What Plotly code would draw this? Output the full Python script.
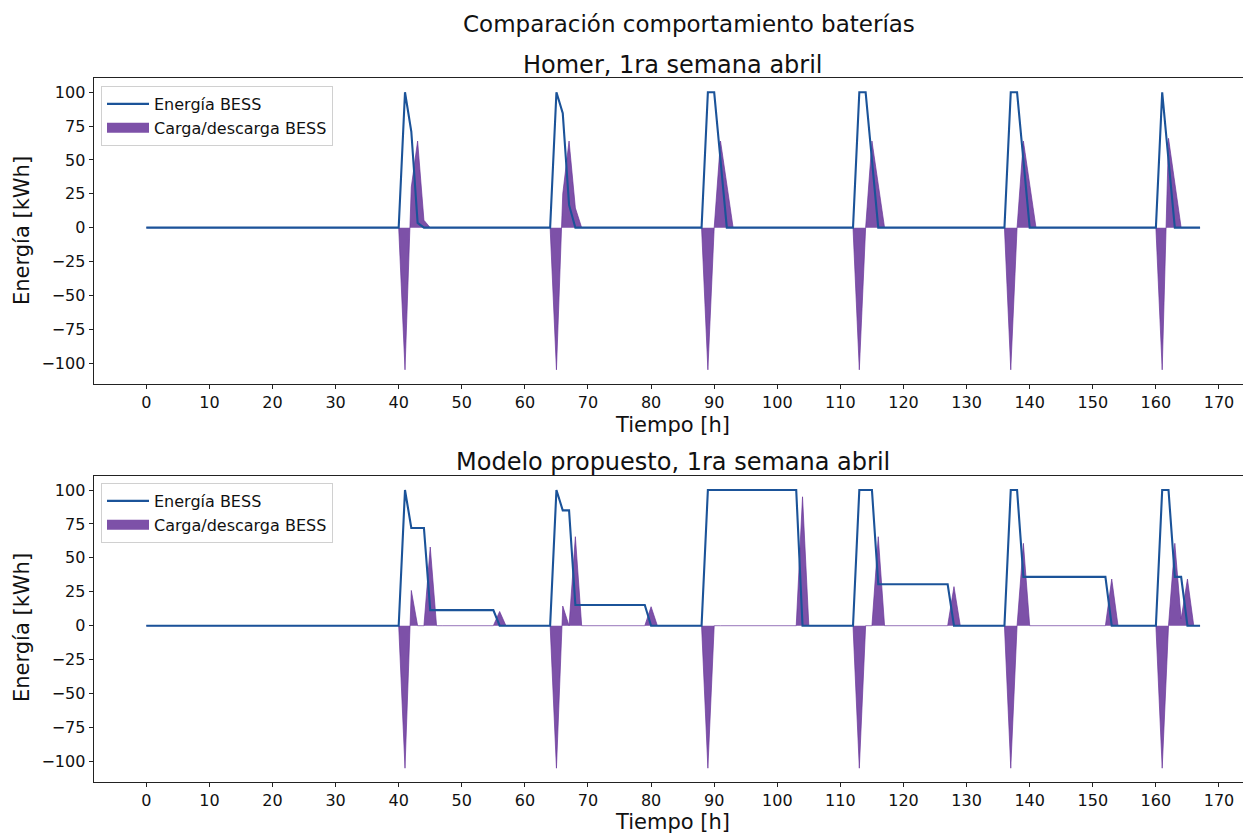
import plotly.graph_objects as go

# ---------------- data ----------------
N_HOURS = 168  # hours 0..167
HOURS = list(range(N_HOURS))

# Homer: energy stored in BESS [kWh] (hours not listed are 0)
homer_energy_hours = [41, 42, 43, 65, 66, 67, 89, 90, 91, 113, 114, 115, 137, 138, 139, 161, 162]
homer_energy_vals  = [100, 71, 3.5, 100, 84.5, 16.8, 100, 100, 50, 100, 100, 50, 100, 100, 50, 100, 50]

# Homer: charge / discharge [kWh]
homer_flow_hours = [41, 42, 43, 44, 65, 66, 67, 68, 89, 91, 92, 113, 115, 116, 137, 139, 140, 161, 162, 163]
homer_flow_vals  = [-105, 30, 64, 5.5, -105, 25, 64, 14.5, -105, 64, 32, -105, 64, 32, -105, 64, 32, -105, 66, 33]

# Modelo propuesto: energy stored in BESS [kWh]
model_energy_hours = ([41, 42, 43, 44] + list(range(45, 56)) +
                      [65, 66, 67] + list(range(68, 80)) +
                      list(range(89, 104)) +
                      [113, 114, 115] + list(range(116, 128)) +
                      [137, 138] + list(range(139, 153)) +
                      [161, 162, 163, 164])
model_energy_vals = ([100, 72, 72, 72] + [11.5] * 11 +
                     [100, 85, 85] + [15.3] * 12 +
                     [100] * 15 +
                     [100, 100, 100] + [30.5] * 12 +
                     [100, 100] + [36] * 14 +
                     [100, 100, 36, 36])

# Modelo propuesto: charge / discharge [kWh]
model_flow_hours = [41, 42, 45, 56, 65, 66, 68, 80, 89, 104, 113, 116, 128, 137, 139, 153, 161, 163, 164, 165]
model_flow_vals  = [-105, 26, 58, 10.5, -105, 14.5, 65.6, 14, -105, 95, -105, 65.6, 28.8, -105, 60.7, 34.4, -105, 60.7, 5, 34.4]

X_TICKS = list(range(0, 171, 10))
Y_TICKS = [-100, -75, -50, -25, 0, 25, 50, 75, 100]
Y_TICK_TEXT = ["\u2212100", "\u221275", "\u221250", "\u221225", "0", "25", "50", "75", "100"]

SUPTITLE = "Comparación comportamiento baterías"
TITLES = ["Homer, 1ra semana abril", "Modelo propuesto, 1ra semana abril"]
X_LABEL = "Tiempo [h]"
Y_LABEL = "Energía [kWh]"
LINE_NAME = "Energía BESS"
FILL_NAME = "Carga/descarga BESS"


def expand(hours, vals):
    arr = [0.0] * N_HOURS
    for h, v in zip(hours, vals):
        arr[h] = v
    return arr


homer_energy = expand(homer_energy_hours, homer_energy_vals)
homer_flow = expand(homer_flow_hours, homer_flow_vals)
model_energy = expand(model_energy_hours, model_energy_vals)
model_flow = expand(model_flow_hours, model_flow_vals)

# ---------------- style ----------------
W, H = 1243, 835
FONT = "DejaVu Sans"
LINE_COLOR = "#1b5399"
FILL_COLOR = "rgba(102,51,153,0.85)"

# pixel geometry
X0_PX = 93.6
PX_PER_H = 6.31
X_MIN = -8.35
X_MAX = X_MIN + (W - X0_PX) / PX_PER_H

axes_px = [(78.4, 383.7), (476.1, 782.1)]  # (top, bottom) in pixels


def py(p):
    return 1 - p / H


def px(p):
    return p / W


fig = go.Figure()

series = [(homer_energy, homer_flow), (model_energy, model_flow)]
for i, (energy, flow) in enumerate(series):
    xa = "x" if i == 0 else "x2"
    ya = "y" if i == 0 else "y2"
    lg = "legend" if i == 0 else "legend2"
    fig.add_trace(go.Scatter(
        x=HOURS, y=flow, mode="lines", fill="tozeroy",
        fillcolor=FILL_COLOR, line=dict(color=FILL_COLOR, width=0.8),
        name=FILL_NAME, xaxis=xa, yaxis=ya, showlegend=False,
        hoverinfo="skip"))
    fig.add_trace(go.Scatter(
        x=HOURS, y=energy, mode="lines",
        line=dict(color=LINE_COLOR, width=2.1),
        name=LINE_NAME, xaxis=xa, yaxis=ya, legend=lg, legendrank=1,
        legendgroup="e%d" % i, hoverinfo="skip"))
    # legend-only patch for the filled series (rectangular swatch)
    fig.add_trace(go.Scatter(
        x=[None], y=[None], mode="lines",
        line=dict(color=FILL_COLOR, width=14),
        name=FILL_NAME, xaxis=xa, yaxis=ya, legend=lg, legendrank=2,
        legendgroup="f%d" % i, hoverinfo="skip"))

axis_common = dict(
    showline=True, linecolor="#222", linewidth=1,
    ticks="outside", ticklen=4, tickwidth=1, tickcolor="#222",
    showgrid=False, zeroline=False,
    tickfont=dict(family=FONT, size=16, color="#111"),
)

for i, (top, bot) in enumerate(axes_px):
    sfx = "" if i == 0 else str(i + 1)
    fig.layout["xaxis" + sfx] = dict(
        axis_common, domain=[px(X0_PX), 1.0], range=[X_MIN, X_MAX],
        tickmode="array", tickvals=X_TICKS, mirror=True,
        anchor="y" + sfx)
    fig.layout["yaxis" + sfx] = dict(
        axis_common, domain=[py(bot), py(top)], range=[-115.25, 110.25],
        tickmode="array", tickvals=Y_TICKS, ticktext=Y_TICK_TEXT,
        mirror=False, anchor="x" + sfx)

legend_common = dict(
    xanchor="left", yanchor="top",
    bgcolor="rgba(255,255,255,0.8)", bordercolor="#d0d0d0", borderwidth=1,
    font=dict(family=FONT, size=16, color="#111"),
    itemwidth=42, tracegroupgap=0, traceorder="grouped",
)
fig.layout.legend = dict(legend_common, x=px(101), y=py(86))
fig.layout.legend2 = dict(legend_common, x=px(101), y=py(483))

annotations = [
    dict(text=SUPTITLE, x=px(689), y=py(24), font=dict(size=23)),
    dict(text=TITLES[0], x=px(673), y=py(65), font=dict(size=24)),
    dict(text=TITLES[1], x=px(673), y=py(462), font=dict(size=24)),
    dict(text=X_LABEL, x=px(673), y=py(425), font=dict(size=21)),
    dict(text=X_LABEL, x=px(673), y=py(822), font=dict(size=21)),
    dict(text=Y_LABEL, x=px(22), y=py(231), font=dict(size=21), textangle=-90),
    dict(text=Y_LABEL, x=px(22), y=py(628), font=dict(size=21), textangle=-90),
]
for a in annotations:
    a.update(xref="paper", yref="paper", showarrow=False,
             xanchor="center", yanchor="middle")
    a["font"] = dict(family=FONT, color="#111", **a["font"])
fig.layout.annotations = annotations

fig.update_layout(
    width=W, height=H, autosize=False,
    margin=dict(l=0, r=0, t=0, b=0, pad=0),
    paper_bgcolor="white", plot_bgcolor="white",
    showlegend=True,
    font=dict(family=FONT),
)

fig.write_html("out.html", config={"displayModeBar": False})
